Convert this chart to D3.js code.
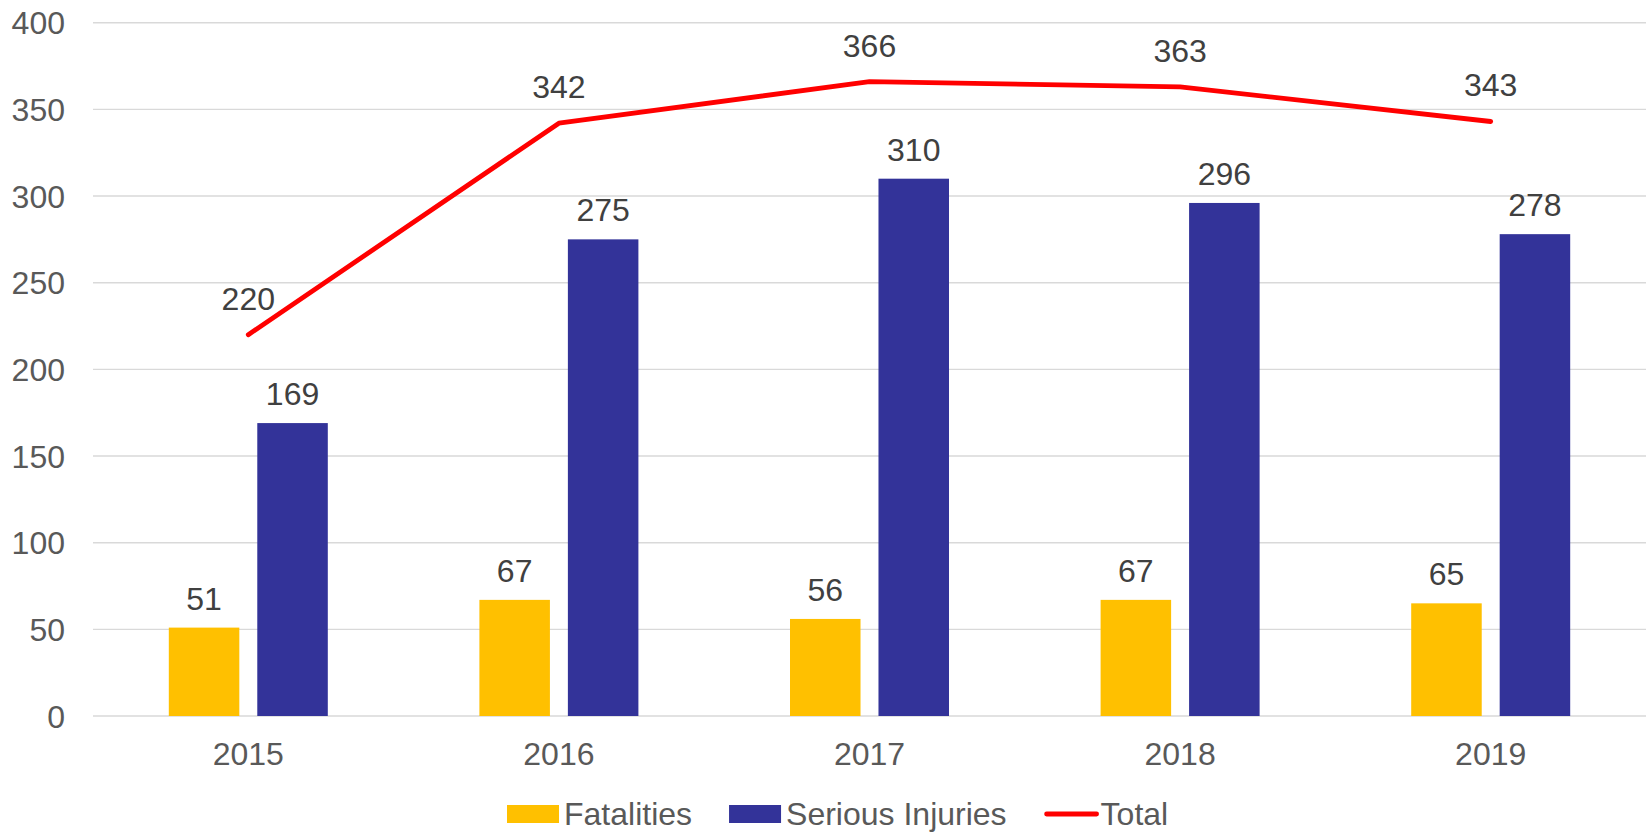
<!DOCTYPE html>
<html>
<head>
<meta charset="utf-8">
<script src="https://cdn.jsdelivr.net/npm/d3@7"></script>
<style>
  body { margin: 0; background: #fff; }
  svg text { font-family: "Liberation Sans", Arial, sans-serif; font-size: 32px; }
  .tick text { fill: #595959; }
  .lbl { fill: #404040; text-anchor: middle; }
</style>
</head>
<body>
<svg id="chart" width="1646" height="832"></svg>
<script>
var years = ["2015", "2016", "2017", "2018", "2019"];
var fatalities = [51, 67, 56, 67, 65];
var injuries = [169, 275, 310, 296, 278];
var totals = [220, 342, 366, 363, 343];
var yTicks = [0, 50, 100, 150, 200, 250, 300, 350, 400];
var seriesNames = ["Fatalities", "Serious Injuries"];
var colors = { "Fatalities": "#FFC000", "Serious Injuries": "#333399", "Total": "#FF0000" };

var svg = d3.select("#chart");
var plotL = 93, plotR = 1646, plotT = 22.7, plotB = 716;

var x = d3.scaleBand().domain(years).range([plotL, plotR]).padding(0);
var y = d3.scaleLinear().domain([0, 400]).range([plotB, plotT]);
// bars inside a group: width ~70, gap ~18
var groupW = 159;
var x1 = d3.scaleBand().domain(seriesNames).range([0, groupW]).paddingInner(0.203);

// gridlines
svg.append("g").selectAll("line").data(yTicks).enter().append("line")
  .attr("x1", plotL).attr("x2", plotR)
  .attr("y1", d => y(d)).attr("y2", d => y(d))
  .attr("stroke", "#D9D9D9").attr("stroke-width", 1.4);

// y axis labels
var yAxis = svg.append("g").attr("transform", "translate(" + (plotL - 28) + ",0)")
  .call(d3.axisLeft(y).tickValues(yTicks).tickSize(0).tickPadding(0));
yAxis.select(".domain").remove();
yAxis.selectAll("text").style("font-size", "32px").attr("dy", "0.35em");

// x axis labels
var xAxis = svg.append("g").attr("transform", "translate(0," + plotB + ")")
  .call(d3.axisBottom(x).tickSize(0).tickPadding(0));
xAxis.select(".domain").remove();
xAxis.selectAll("text").style("font-size", "32px").attr("dy", null).attr("y", 49);

var rows = years.map((yr, i) => ({ year: yr, "Fatalities": fatalities[i], "Serious Injuries": injuries[i] }));

var groups = svg.append("g").selectAll("g").data(rows).enter().append("g")
  .attr("transform", d => "translate(" + (x(d.year) + x.bandwidth() / 2 - groupW / 2) + ",0)");

var bars = groups.selectAll("g").data(d => seriesNames.map(k => ({ key: k, value: d[k] }))).enter().append("g");
bars.append("rect")
  .attr("x", d => x1(d.key))
  .attr("width", x1.bandwidth())
  .attr("y", d => y(d.value))
  .attr("height", d => y(0) - y(d.value))
  .attr("fill", d => colors[d.key]);
bars.append("text").attr("class", "lbl")
  .attr("x", d => x1(d.key) + x1.bandwidth() / 2)
  .attr("y", d => y(d.value) - 18)
  .text(d => d.value);

// total line
var cx = d => x(d) + x.bandwidth() / 2;
var line = d3.line().x((d, i) => cx(years[i])).y(d => y(d));
svg.append("path").datum(totals)
  .attr("d", line)
  .attr("fill", "none").attr("stroke", colors["Total"]).attr("stroke-width", 4.8)
  .attr("stroke-linecap", "round").attr("stroke-linejoin", "round");
svg.append("g").selectAll("text").data(totals).enter().append("text").attr("class", "lbl")
  .attr("x", (d, i) => cx(years[i]))
  .attr("y", d => y(d) - 25)
  .text(d => d);

// legend
var legend = svg.append("g");
var lx = 507, ly = 814;
["Fatalities", "Serious Injuries", "Total"].forEach(function (name) {
  if (name === "Total") {
    legend.append("line").attr("x1", lx + 3).attr("x2", lx + 53).attr("y1", ly).attr("y2", ly)
      .attr("stroke", colors[name]).attr("stroke-width", 4.8).attr("stroke-linecap", "round");
  } else {
    legend.append("rect").attr("x", lx).attr("y", ly - 9).attr("width", 52).attr("height", 18)
      .attr("fill", colors[name]);
  }
  var t = legend.append("text").attr("x", lx + 57).attr("y", ly).attr("dy", "0.35em")
    .attr("fill", "#595959").text(name);
  lx += 57 + t.node().getComputedTextLength() + 37;
});
</script>
</body>
</html>
